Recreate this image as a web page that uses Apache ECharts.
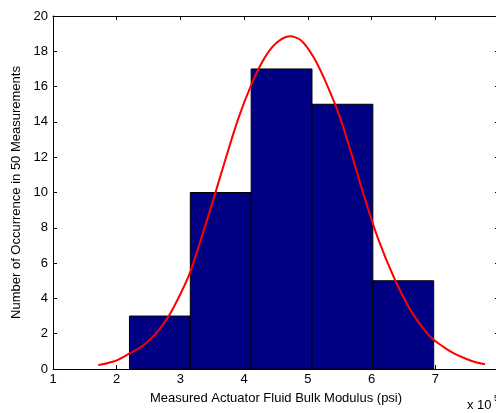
<!DOCTYPE html>
<html><head><meta charset="utf-8">
<script src="https://cdn.jsdelivr.net/npm/echarts@6/dist/echarts.min.js"></script>
<style>html,body{margin:0;padding:0;background:#fff}#c{width:496px;height:413px}</style>
</head><body><div id="c"></div>
<script>
const binEdges = [2.2, 3.155, 4.11, 5.065, 6.02, 6.975];
const counts = [3, 10, 17, 15, 5];
const curveX = [1.71, 1.85, 2.0, 2.2, 2.4, 2.6, 2.8, 3.0, 3.155, 3.3, 3.5, 3.7, 3.9, 4.1, 4.3, 4.5, 4.72, 4.9, 5.1, 5.3, 5.5, 5.7, 5.9, 6.1, 6.37, 6.6, 6.8, 6.97, 7.15, 7.3, 7.5, 7.65, 7.78];
const curveY = [0.22, 0.33, 0.49, 0.88, 1.29, 1.95, 2.9, 4.25, 5.5, 7.1, 9.4, 11.8, 14.1, 16.0, 17.5, 18.45, 18.85, 18.6, 17.6, 16.1, 14.3, 12.0, 9.6, 7.4, 5.03, 3.4, 2.35, 1.67, 1.2, 0.87, 0.55, 0.37, 0.27];
const xTicks = [1, 2, 3, 4, 5, 6, 7, 8];
const yTicks = [0, 2, 4, 6, 8, 10, 12, 14, 16, 18, 20];

const chart = echarts.init(document.getElementById('c'), null, {renderer: 'canvas'});
const font = 'Liberation Sans, Arial, sans-serif';
const axisCommon = {
  axisLine: {show: true, onZero: false, lineStyle: {color: '#000', width: 1}},
  axisTick: {show: true, inside: true, length: 4, lineStyle: {color: '#000'}},
  splitLine: {show: false}
};
chart.setOption({
  animation: false,
  grid: {left: 53, top: 16, width: 446, height: 353, containLabel: false, outerBoundsMode: 'none'},
  xAxis: [
    Object.assign({type: 'value', min: 1, max: 8, interval: 1, position: 'bottom',
      axisLabel: {color: '#000', fontSize: 13, fontFamily: font, margin: 4},
      name: 'Measured Actuator Fluid Bulk Modulus (psi)', nameLocation: 'middle', nameGap: 23,
      nameTextStyle: {color: '#000', fontSize: 13, fontFamily: font}}, axisCommon),
    Object.assign({type: 'value', min: 1, max: 8, interval: 1, position: 'top',
      axisLabel: {show: false}}, axisCommon)
  ],
  yAxis: [
    Object.assign({type: 'value', min: 0, max: 20, interval: 2, position: 'left',
      axisLabel: {color: '#000', fontSize: 13, fontFamily: font, margin: 5},
      name: 'Number of Occurrence in 50 Measurements', nameLocation: 'middle', nameGap: 27,
      nameTextStyle: {color: '#000', fontSize: 13, fontFamily: font}}, axisCommon),
    Object.assign({type: 'value', min: 0, max: 20, interval: 2, position: 'right',
      axisLabel: {show: false}}, axisCommon)
  ],
  graphic: [{type: 'text', left: 467, top: 399,
    style: {text: 'x 10', fill: '#000', font: '13px ' + font}},
    {type: 'text', left: 494, top: 394,
    style: {text: '5', fill: '#000', font: '9px ' + font}}],
  series: [
    {type: 'custom', xAxisIndex: 0, yAxisIndex: 0,
      data: counts.map((c, i) => [binEdges[i], binEdges[i + 1], c]),
      renderItem: function (params, api) {
        const p0 = api.coord([api.value(0), api.value(2)]);
        const p1 = api.coord([api.value(1), 0]);
        return {type: 'rect', shape: {x: p0[0], y: p0[1], width: p1[0] - p0[0], height: p1[1] - p0[1]},
          style: {fill: '#000083', stroke: '#000', lineWidth: 1}};
      }, z: 2},
    {type: 'line', xAxisIndex: 0, yAxisIndex: 0, smooth: 0.3, showSymbol: false,
      data: curveX.map((x, i) => [x, curveY[i]]),
      lineStyle: {color: '#ff0000', width: 2}, z: 3}
  ]
});
</script></body></html>
